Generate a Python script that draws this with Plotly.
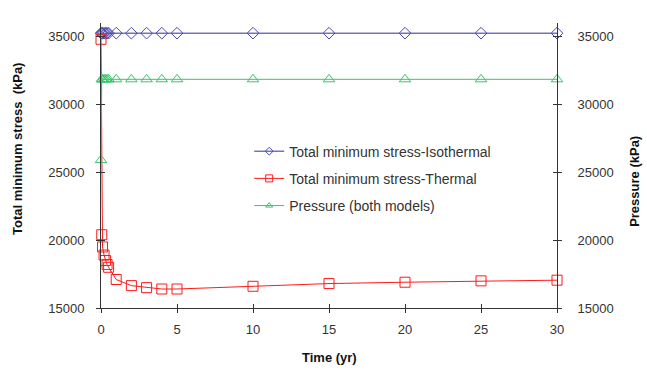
import plotly.graph_objects as go

time_yr = [0, 0.05, 0.1, 0.2, 0.3, 0.4, 0.5, 1, 2, 3, 4, 5, 10, 15, 20, 25, 30]
stress_isothermal = [35250, 35250, 35250, 35250, 35250, 35250, 35250, 35250, 35250,
                     35250, 35250, 35250, 35250, 35250, 35250, 35250, 35250]
stress_thermal = [34800, 20400, 19500, 18900, 18500, 18200, 18000, 17100, 16650,
                  16500, 16400, 16400, 16600, 16800, 16900, 17000, 17050]
pressure = [25900, 31850, 31850, 31850, 31850, 31850, 31850, 31850, 31850,
            31850, 31850, 31850, 31850, 31850, 31850, 31850, 31850]

names = ["Total minimum stress-Isothermal", "Total minimum stress-Thermal", "Pressure (both models)"]
x_ticks = [0, 5, 10, 15, 20, 25, 30]
y_ticks = [15000, 20000, 25000, 30000, 35000]
y_tick_text = ["15000", "20000", "25000", "30000", "35000"]
y_range = [15000, 36000]
x_range = [0, 30]

BLUE = "#2e2ea0"
BLUE_M = "#4a4ab8"
RED = "#ff1a1a"
GREEN = "#3cc46c"
FONT = "Liberation Sans, Arial, sans-serif"

series = [
    (stress_isothermal, names[0], BLUE, BLUE_M, "diamond-open", 9, 6, "y"),
    (stress_thermal, names[1], RED, RED, "square-open", 10, 7, "y"),
    (pressure, names[2], GREEN, GREEN, "triangle-up-open", 10, 6, "y2"),
]

fig = go.Figure()
for i, (vals, nm, lc, mc, sym, sz, lsz, ya) in enumerate(series):
    fig.add_trace(go.Scatter(x=time_yr, y=vals, name=nm, mode="lines+markers",
                             line=dict(color=lc, width=1),
                             marker=dict(symbol=sym, size=sz, color=mc, line=dict(width=1)),
                             cliponaxis=False, showlegend=False, yaxis=ya))
    # legend-only entry with a smaller marker
    fig.add_trace(go.Scatter(x=[None], y=[None], name=nm, mode="lines+markers",
                             line=dict(color=lc, width=1),
                             marker=dict(symbol=sym, size=lsz, color=mc, line=dict(width=1)),
                             legendgroup="g%d" % i, yaxis=ya))

# dummy traces to show inner tick marks (cross ticks)
fig.add_trace(go.Scatter(x=[None], y=[None], xaxis="x2", yaxis="y3", showlegend=False, hoverinfo="skip"))
fig.add_trace(go.Scatter(x=[None], y=[None], xaxis="x2", yaxis="y4", showlegend=False, hoverinfo="skip"))

axcol = "#333333"
tickfont = dict(family=FONT, size=13, color="#333333")
titlefont = dict(family=FONT, size=13, color="#111111")
common_y = dict(range=y_range, tickvals=y_ticks, ticktext=y_tick_text, showgrid=False, zeroline=False,
                showline=True, linecolor=axcol, linewidth=1, tickcolor=axcol, ticklen=4)

fig.update_layout(
    width=647, height=371,
    margin=dict(l=101, r=90, t=23, b=63),
    paper_bgcolor="white", plot_bgcolor="white",
    font=dict(family=FONT, size=12, color="#222222"),
    xaxis=dict(range=x_range, tickvals=x_ticks, showgrid=False, zeroline=False,
               showline=True, linecolor=axcol, linewidth=1, ticks="outside", ticklen=4,
               tickcolor=axcol, tickfont=tickfont, ticklabelstandoff=5),
    xaxis2=dict(range=x_range, tickvals=x_ticks, overlaying="x", side="bottom", showgrid=False,
                zeroline=False, showline=False, ticks="inside", ticklen=4, tickcolor=axcol,
                showticklabels=False),
    yaxis=dict(**common_y, ticks="outside", tickfont=tickfont, ticklabelstandoff=9),
    yaxis2=dict(**common_y, overlaying="y", side="right", ticks="outside", tickfont=tickfont,
                ticklabelstandoff=13),
    yaxis3=dict(**common_y, overlaying="y", side="left", ticks="inside", showticklabels=False),
    yaxis4=dict(**common_y, overlaying="y", side="right", ticks="inside", showticklabels=False),
    legend=dict(x=0.325, y=0.605, xanchor="left", yanchor="top", bgcolor="rgba(0,0,0,0)",
                font=dict(family=FONT, size=14, color="#333333"),
                traceorder="grouped", tracegroupgap=6, itemwidth=30),
    showlegend=True,
    annotations=[
        dict(text="<b>Total minimum stress  (kPa)</b>", xref="paper", yref="paper",
             x=-0.182, y=0.558, xanchor="center", yanchor="middle", textangle=-90,
             showarrow=False, font=titlefont),
        dict(text="<b>Pressure (kPa)</b>", xref="paper", yref="paper",
             x=1.171, y=0.446, xanchor="center", yanchor="middle", textangle=-90,
             showarrow=False, font=titlefont),
        dict(text="<b>Time (yr)</b>", xref="paper", yref="paper",
             x=0.502, y=-0.172, xanchor="center", yanchor="middle",
             showarrow=False, font=titlefont),
    ],
)

fig.write_html("out.html")
